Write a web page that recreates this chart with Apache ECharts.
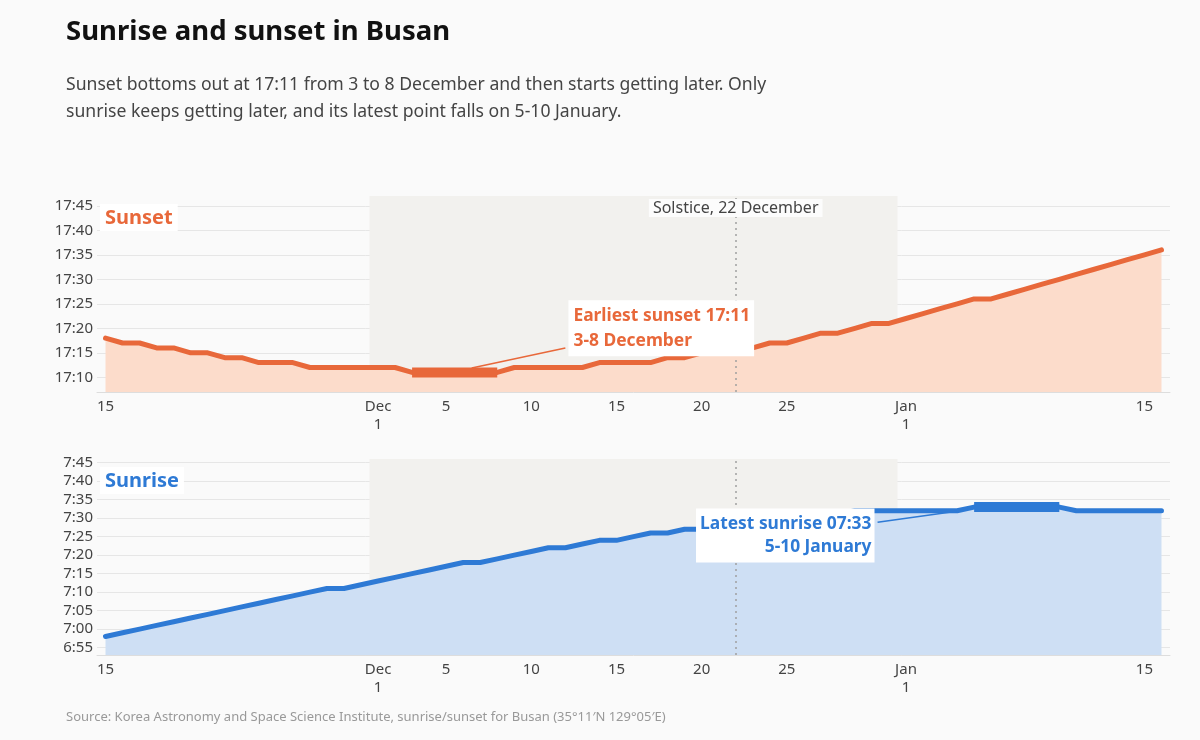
<!DOCTYPE html>
<html><head><meta charset="utf-8">
<script src="https://cdn.jsdelivr.net/npm/echarts@6/dist/echarts.min.js"></script>
<style>html,body{margin:0;background:#fafafa}#c{width:1200px;height:740px}</style>
</head><body><div id="c"></div>
<script>
const FONT = '"Noto Sans", "Open Sans", sans-serif';

// Daily values from 15 Nov (index 0) to 16 Jan (index 62)
const sunsetTimes = [
  '17:18','17:17','17:17','17:16','17:16','17:15','17:15','17:14','17:14','17:13',
  '17:13','17:13','17:12','17:12','17:12','17:12','17:12','17:12','17:11','17:11',
  '17:11','17:11','17:11','17:11','17:12','17:12','17:12','17:12','17:12','17:13',
  '17:13','17:13','17:13','17:14','17:14','17:15','17:15','17:16','17:16','17:17',
  '17:17','17:18','17:19','17:19','17:20','17:21','17:21','17:22','17:23','17:24',
  '17:25','17:26','17:26','17:27','17:28','17:29','17:30','17:31','17:32','17:33',
  '17:34','17:35','17:36'
];
const sunriseTimes = [
  '6:58','6:59','7:00','7:01','7:02','7:03','7:04','7:05','7:06','7:07',
  '7:08','7:09','7:10','7:11','7:11','7:12','7:13','7:14','7:15','7:16',
  '7:17','7:18','7:18','7:19','7:20','7:21','7:22','7:22','7:23','7:24',
  '7:24','7:25','7:26','7:26','7:27','7:27','7:28','7:28','7:29','7:29',
  '7:30','7:30','7:31','7:31','7:32','7:32','7:32','7:32','7:32','7:32',
  '7:32','7:33','7:33','7:33','7:33','7:33','7:33','7:32','7:32','7:32',
  '7:32','7:32','7:32'
];

const xTickDays   = [0, 16, 20, 25, 30, 35, 40, 47, 61];
const xTickLabels = ['15', 'Dec\n1', '5', '10', '15', '20', '25', 'Jan\n1', '15'];
const sunsetTicks  = ['17:10','17:15','17:20','17:25','17:30','17:35','17:40','17:45'];
const sunriseTicks = ['6:55','7:00','7:05','7:10','7:15','7:20','7:25','7:30','7:35','7:40','7:45'];
const sunsetRange  = ['17:07', '17:47'];
const sunriseRange = ['6:53', '7:46'];
const decemberDays = [16, 46];        // 1 Dec, 31 Dec
const solsticeDay = 37;               // 22 Dec
const earliestSunsetDays = [18, 23];  // 3-8 Dec
const latestSunriseDays  = [51, 56];  // 5-10 Jan

const ORANGE = '#e8683a', ORANGE_FILL = '#fcdccb';
const BLUE = '#2e7ad5', BLUE_FILL = '#cedff4';

function toMin(s) { const p = s.split(':').map(Number); return p[0] * 60 + p[1]; }
function fmt(v) { const h = Math.floor(v / 60), m = Math.round(v % 60); return h + ':' + String(m).padStart(2, '0'); }

const sunsetData  = sunsetTimes.map((t, i) => [i, toMin(t)]);
const sunriseData = sunriseTimes.map((t, i) => [i, toMin(t)]);
const sunsetHi  = sunsetData.filter(d => d[0] >= earliestSunsetDays[0] && d[0] <= earliestSunsetDays[1]);
const sunriseHi = sunriseData.filter(d => d[0] >= latestSunriseDays[0] && d[0] <= latestSunriseDays[1]);

function xAxis(g) {
  return {
    type: 'value', gridIndex: g, min: -0.5, max: sunsetTimes.length - 0.5,
    axisLine: { show: true, onZero: false, lineStyle: { color: '#dddddd', width: 1 } },
    axisTick: { show: false, customValues: xTickDays },
    splitLine: { show: false },
    axisLabel: {
      customValues: xTickDays,
      formatter: v => xTickLabels[xTickDays.indexOf(v)] || '',
      color: '#444', fontSize: 15, fontFamily: FONT, lineHeight: 18, margin: 6
    }
  };
}
function yAxis(g, range, ticks) {
  const tv = ticks.map(toMin);
  return {
    type: 'value', gridIndex: g, min: toMin(range[0]), max: toMin(range[1]),
    axisLine: { show: false },
    axisTick: { show: false, customValues: tv },
    splitLine: { show: true, lineStyle: { color: '#e6e6e6', width: 1 } },
    axisLabel: { customValues: tv, formatter: fmt, color: '#444', fontSize: 15, fontFamily: FONT, margin: 4 }
  };
}
function shade(g) {
  return {
    type: 'line', xAxisIndex: g, yAxisIndex: g, data: [], z: 1, silent: true,
    markArea: {
      silent: true, itemStyle: { color: '#f2f1ee' },
      data: [[{ xAxis: decemberDays[0] - 0.5 }, { xAxis: decemberDays[1] + 0.5 }]]
    }
  };
}
function solsticeLine(withLabel) {
  return {
    silent: true, symbol: 'none',
    lineStyle: { color: '#a0a0a0', type: [2, 4], width: 1.5 },
    label: withLabel ? {
      show: true, position: 'end', distance: -21, formatter: 'Solstice, 22 December',
      color: '#444', fontSize: 16, fontFamily: FONT, backgroundColor: '#fcfcfc', padding: [1, 4]
    } : { show: false },
    data: [{ xAxis: solsticeDay }]
  };
}

const option = {
  backgroundColor: '#fafafa',
  animation: false,
  title: [
    { text: 'Sunrise and sunset in Busan', left: 61, top: 13,
      textStyle: { fontSize: 27.5, fontWeight: 'bold', color: '#111', fontFamily: FONT } },
    { text: 'Sunset bottoms out at 17:11 from 3 to 8 December and then starts getting later. Only\nsunrise keeps getting later, and its latest point falls on 5-10 January.',
      left: 61, top: 66,
      textStyle: { fontSize: 17.6, fontWeight: 'normal', color: '#444', lineHeight: 27, fontFamily: FONT } },
    { text: 'Source: Korea Astronomy and Space Science Institute, sunrise/sunset for Busan (35°11′N 129°05′E)',
      left: 61, top: 706,
      textStyle: { fontSize: 13, fontWeight: 'normal', color: '#999', fontFamily: FONT } },
    { text: 'Sunset', left: 100, top: 204, padding: [4, 5, 3, 5], backgroundColor: '#fff',
      textStyle: { fontSize: 20, fontWeight: 'bold', color: ORANGE, fontFamily: FONT } },
    { text: 'Sunrise', left: 100, top: 467, padding: [4, 5, 3, 5], backgroundColor: '#fff',
      textStyle: { fontSize: 20, fontWeight: 'bold', color: BLUE, fontFamily: FONT } }
  ],
  grid: [
    { left: 97, right: 30, top: 196, height: 196 },
    { left: 97, right: 30, top: 459, height: 196 }
  ],
  xAxis: [xAxis(0), xAxis(1)],
  yAxis: [yAxis(0, sunsetRange, sunsetTicks), yAxis(1, sunriseRange, sunriseTicks)],
  series: [
    shade(0), shade(1),
    {
      name: 'Sunset', type: 'line', xAxisIndex: 0, yAxisIndex: 0, data: sunsetData, z: 2,
      symbol: 'none', lineStyle: { color: ORANGE, width: 5, cap: 'round', join: 'round' },
      areaStyle: { color: ORANGE_FILL, opacity: 1, origin: 'start' },
      markLine: solsticeLine(true)
    },
    {
      name: 'Sunrise', type: 'line', xAxisIndex: 1, yAxisIndex: 1, data: sunriseData, z: 2,
      symbol: 'none', lineStyle: { color: BLUE, width: 5, cap: 'round', join: 'round' },
      areaStyle: { color: BLUE_FILL, opacity: 1, origin: 'start' },
      markLine: solsticeLine(false)
    },
    {
      name: 'Earliest sunset', type: 'line', xAxisIndex: 0, yAxisIndex: 0, data: sunsetHi, z: 3,
      symbol: 'none', lineStyle: { color: ORANGE, width: 10, cap: 'butt' },
      markLine: {
        silent: true, symbol: 'none', lineStyle: { color: ORANGE, width: 1.5, type: 'solid' }, label: { show: false },
        data: [[{ coord: [21.5, 1031.9] }, { coord: [27.0, 1036] }]]
      },
      markPoint: {
        silent: true, symbol: 'rect', symbolSize: 1, itemStyle: { color: 'rgba(0,0,0,0)' },
        data: [{
          coord: [27.15, 1040.0],
          label: {
            show: true, position: 'right', distance: 0,
            formatter: 'Earliest sunset 17:11\n3-8 December',
            color: ORANGE, fontSize: 17.4, fontWeight: 'bold', fontFamily: FONT, lineHeight: 25,
            backgroundColor: '#fff', padding: [3, 4, 3, 5]
          }
        }]
      }
    },
    {
      name: 'Latest sunrise', type: 'line', xAxisIndex: 1, yAxisIndex: 1, data: sunriseHi, z: 3,
      symbol: 'none', lineStyle: { color: BLUE, width: 10, cap: 'butt' },
      markLine: {
        silent: true, symbol: 'none', lineStyle: { color: BLUE, width: 1.5, type: 'solid' }, label: { show: false },
        data: [[{ coord: [45.33, 448.9] }, { coord: [49.97, 451.9] }]]
      },
      markPoint: {
        silent: true, symbol: 'rect', symbolSize: 1, itemStyle: { color: 'rgba(0,0,0,0)' },
        data: [{
          coord: [45.18, 445.3],
          label: {
            show: true, position: 'left', distance: 0, align: 'right',
            formatter: 'Latest sunrise 07:33\n5-10 January',
            color: BLUE, fontSize: 17.4, fontWeight: 'bold', fontFamily: FONT, lineHeight: 23,
            backgroundColor: '#fff', padding: [4, 3, 4, 4]
          }
        }]
      }
    }
  ]
};
echarts.init(document.getElementById('c')).setOption(option);
</script>
</body></html>
